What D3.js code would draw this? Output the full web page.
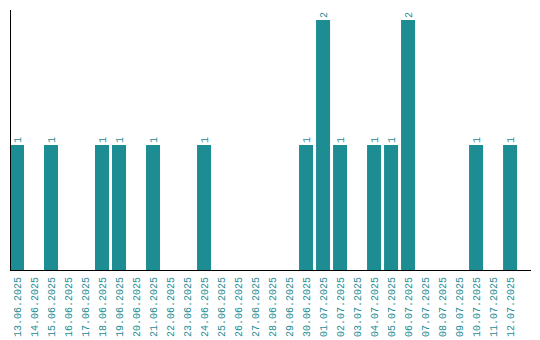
<!DOCTYPE html>
<html>
<head>
<meta charset="utf-8">
<script src="https://cdn.jsdelivr.net/npm/d3@7"></script>
<style>
  body { margin: 0; background: #fff; }
  text { font-family: 'Liberation Mono', monospace; font-size: 10px; fill: #1e8c93; }
</style>
</head>
<body>
<svg width="540" height="340"></svg>
<script>
var dates = [
  '13.06.2025', '14.06.2025', '15.06.2025', '16.06.2025', '17.06.2025',
  '18.06.2025', '19.06.2025', '20.06.2025', '21.06.2025', '22.06.2025',
  '23.06.2025', '24.06.2025', '25.06.2025', '26.06.2025', '27.06.2025',
  '28.06.2025', '29.06.2025', '30.06.2025', '01.07.2025', '02.07.2025',
  '03.07.2025', '04.07.2025', '05.07.2025', '06.07.2025', '07.07.2025',
  '08.07.2025', '09.07.2025', '10.07.2025', '11.07.2025', '12.07.2025'
]
var counts = [
  1, 0, 1, 0, 0,
  1, 1, 0, 1, 0,
  0, 1, 0, 0, 0,
  0, 0, 1, 2, 1,
  0, 1, 1, 2, 0,
  0, 0, 1, 0, 1
]

var color = '#1e8c93'
var svg = d3.select('svg')
var plotLeft = 10, plotRight = 530, plotTop = 10, plotBottom = 270

var data = dates.map((d, i) => ({ date: d, value: counts[i] }))

var x = d3.scaleBand()
  .domain(dates)
  .range([plotLeft, plotRight])
  .paddingInner(0.176)
  .paddingOuter(0.38)
  .align(0)

var y = d3.scaleLinear()
  .domain([0, d3.max(counts) * 1.04])
  .range([plotBottom, plotTop])

var nonZero = data.filter(d => d.value > 0)

svg.selectAll('.bar')
  .data(nonZero)
  .enter().append('rect')
  .attr('class', 'bar')
  .attr('x', d => x(d.date))
  .attr('y', d => y(d.value))
  .attr('width', x.bandwidth())
  .attr('height', d => y(0) - y(d.value))
  .attr('fill', color)

svg.selectAll('.val')
  .data(nonZero)
  .enter().append('text')
  .attr('class', 'val')
  .attr('transform', d => 'translate(' + (x(d.date) + x.bandwidth() / 2 + 3.5) + ',' + (y(d.value) - 2) + ') rotate(-90)')
  .text(d => d.value)

// axes
var xAxis = svg.append('g')
  .attr('transform', 'translate(0,' + plotBottom + ')')
  .call(d3.axisBottom(x).tickSize(0).tickPadding(0))
xAxis.select('.domain').attr('stroke', '#000').attr('stroke-width', 1.2)
  .attr('d', 'M' + plotLeft + ',0.5H' + (plotRight + 1))
xAxis.selectAll('text')
  .attr('fill', color)
  .attr('font-family', null)
  .attr('font-size', null)
  .attr('text-anchor', 'end')
  .attr('dy', null)
  .attr('transform', 'translate(3.5,7) rotate(-90)')
  .attr('y', 0)

svg.append('line')
  .attr('x1', plotLeft + 0.5).attr('x2', plotLeft + 0.5)
  .attr('y1', plotTop).attr('y2', plotBottom)
  .attr('stroke', '#000')
  .attr('stroke-width', 1)
</script>
</body>
</html>
